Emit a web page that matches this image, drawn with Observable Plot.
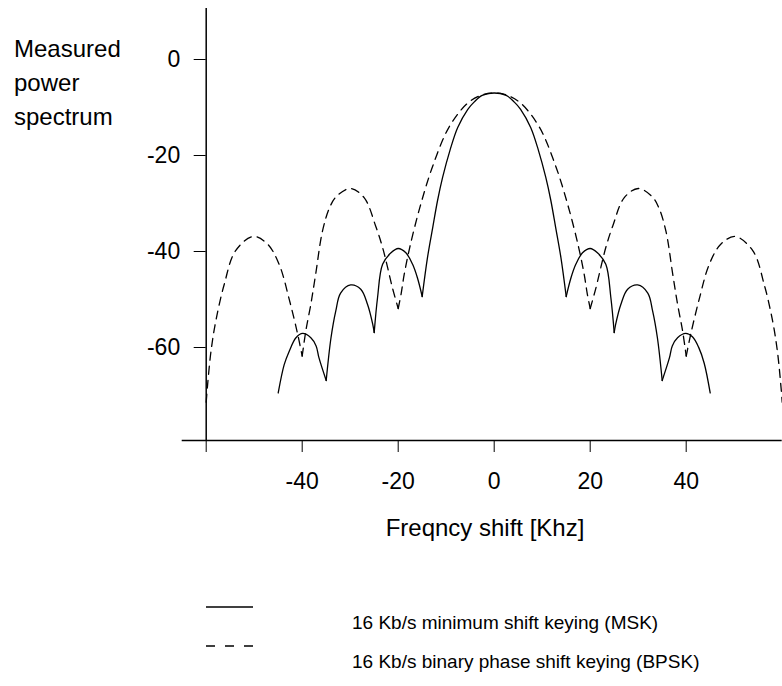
<!DOCTYPE html>
<html>
<head>
<meta charset="utf-8">
<script src="https://cdn.jsdelivr.net/npm/d3@7"></script>
<script src="https://cdn.jsdelivr.net/npm/@observablehq/plot@0.6"></script>
<style>
  body { margin: 0; background: #fff; }
  #wrap { position: relative; width: 782px; height: 686px; font-family: "Liberation Sans", Arial, Helvetica, sans-serif; color: #000; }
  .lg-text { position: absolute; font-size: 19px; line-height: 19px; white-space: nowrap; }
  .lg-key { position: absolute; }
</style>
</head>
<body>
<div id="wrap"></div>
<script>
// ---- Data ----
// MSK (solid) : frequency shift [kHz], power [dB], lobe id
const mskFreq = [
  -45, -43.75, -42.7, -41.3, -39.9, -38.2, -37.1, -36.5, -35,
  -35, -34, -33, -32, -29.9, -27.8, -26.4, -25.3, -25,
  -25, -24.3, -23.25, -21.5, -20, -18.4, -17, -16, -15,
  -15, -13.9, -12.8, -11.8, -10.75, -9.2, -7.6, -5.5, -4.2, -2.5, 0, 2.5, 4.2, 5.5, 7.6, 9.2, 10.75, 11.8, 12.8, 13.9, 15,
  15, 16, 17, 18.4, 20, 21.5, 23.25, 24.3, 25,
  25, 25.3, 26.4, 27.8, 29.9, 32, 33, 34, 35,
  35, 36.5, 37.1, 38.2, 39.9, 41.3, 42.6, 43.75, 45
];
const mskPower = [
  -70.1, -64.2, -61.4, -58.6, -57.7, -58.6, -60.3, -62.8, -67.5,
  -67.5, -58.6, -53, -49.3, -47.6, -48.5, -51.6, -55.8, -57.5,
  -57.5, -50.2, -43.3, -40.9, -40, -40.9, -43.3, -46.1, -50,
  -50, -41.9, -35.6, -30, -25.2, -19.5, -14.8, -11, -9.5, -8.1, -7.6, -8.1, -9.5, -11, -14.8, -19.5, -25.2, -30, -35.6, -41.9, -50,
  -50, -46.1, -43.3, -40.9, -40, -40.9, -43.3, -50.2, -57.5,
  -57.5, -55.8, -51.6, -48.5, -47.6, -49.3, -53, -58.6, -67.5,
  -67.5, -62.8, -60.3, -58.6, -57.7, -58.4, -60.6, -63.9, -70.1
];
const mskLobe = [
  1,1,1,1,1,1,1,1,1,
  2,2,2,2,2,2,2,2,2,
  3,3,3,3,3,3,3,3,3,
  4,4,4,4,4,4,4,4,4,4,4,4,4,4,4,4,4,4,4,4,4,
  5,5,5,5,5,5,5,5,5,
  6,6,6,6,6,6,6,6,6,
  7,7,7,7,7,7,7,7,7
];

// BPSK (dashed) : frequency shift [kHz], power [dB], lobe id
const bpskFreq = [
  -60, -59.7, -59, -58, -56.25, -53.9, -50.2, -47.2, -44.8, -42.7, -41, -40,
  -40, -39.25, -38.2, -37.2, -35.8, -34.3, -32.9, -30, -27.1, -24.7, -23.25, -22.2, -21.2, -20,
  -20, -19.4, -18.75, -17.6, -15.5, -12.8, -9.4, -5.5, -2.5, 0, 2.5, 5.5, 9.4, 12.8, 15.5, 17.6, 18.75, 19.4, 20,
  20, 21.2, 22.2, 23.25, 24.7, 27.1, 30, 32.9, 34.3, 35.8, 37.2, 38.2, 39.25, 40,
  40, 41, 42.7, 44.8, 47.2, 50.2, 53.9, 56.25, 58, 59, 59.7, 60
];
const bpskPower = [
  -72, -68.3, -61.4, -55.1, -47.5, -40.5, -37.5, -39.1, -43.3, -50.6, -57.6, -62.4,
  -62.4, -57.2, -51.6, -45.4, -36.5, -31.5, -29.2, -27.5, -29.4, -35.3, -39.8, -44, -48.2, -52.5,
  -52.5, -49.5, -45.4, -39.8, -31.5, -22.8, -14.7, -9.7, -8, -7.6, -8, -9.7, -14.7, -22.8, -31.5, -39.8, -45.4, -49.5, -52.5,
  -52.5, -48.2, -44, -39.8, -35.3, -29.4, -27.5, -29.2, -31.5, -36.5, -45.4, -51.6, -57.2, -62.4,
  -62.4, -57.6, -50.6, -43.3, -39.1, -37.5, -40.5, -47.5, -55.1, -61.4, -68.3, -72
];
const bpskLobe = [
  1,1,1,1,1,1,1,1,1,1,1,1,
  2,2,2,2,2,2,2,2,2,2,2,2,2,2,
  3,3,3,3,3,3,3,3,3,3,3,3,3,3,3,3,3,3,3,
  4,4,4,4,4,4,4,4,4,4,4,4,4,4,
  5,5,5,5,5,5,5,5,5,5,5,5
];

const xTicks = [-60, -40, -20, 0, 20, 40];
const xTickLabels = ["", "-40", "-20", "0", "20", "40"];
const yTicks = [0, -20, -40, -60];
const yTickLabels = ["0", "-20", "-40", "-60"];
const xLabel = "Freqncy shift [Khz]";
const yLabel = "Measured\npower\nspectrum";
const seriesNames = ["16 Kb/s minimum shift keying (MSK)", "16 Kb/s binary phase shift keying (BPSK)"];

// ---- Build tables ----
const msk = mskFreq.map((f, i) => ({f, p: mskPower[i], lobe: mskLobe[i]}));
const bpsk = bpskFreq.map((f, i) => ({f, p: bpskPower[i], lobe: bpskLobe[i]}));
const xLab = new Map(xTicks.map((t, i) => [t, xTickLabels[i]]));
const yLab = new Map(yTicks.map((t, i) => [t, yTickLabels[i]]));

const chart = Plot.plot({
  width: 782,
  height: 580,
  marginLeft: 205.7,
  marginRight: 0.3,
  marginTop: 8,
  marginBottom: 140,
  style: {fontFamily: '"Liberation Sans", Arial, Helvetica, sans-serif', background: "#fff", color: "#000", overflow: "visible"},
  x: {domain: [-60, 60]},
  y: {domain: [-80, 10]},
  marks: [
    Plot.axisX({ticks: xTicks, tickFormat: d => xLab.get(d), tickSize: 12, tickPadding: 20, fontSize: 23, label: null}),
    Plot.axisY({ticks: yTicks, tickFormat: d => yLab.get(d), tickSize: 12, tickPadding: 14, fontSize: 23, dy: 3, label: null}),
    Plot.ruleY([-80], {x1: -65, x2: 60, stroke: "#000", strokeWidth: 1.5}),
    Plot.ruleX([-60], {y1: -80, y2: 10, stroke: "#000", strokeWidth: 1.5}),
    Plot.line(bpsk, {x: "f", y: "p", z: "lobe", curve: "catmull-rom", stroke: "#000", strokeWidth: 1.3, strokeDasharray: "8,6"}),
    Plot.line(msk, {x: "f", y: "p", z: "lobe", curve: "catmull-rom", stroke: "#000", strokeWidth: 1.3}),
    Plot.text([yLabel], {text: d => d, frameAnchor: "top-left", textAnchor: "start", lineAnchor: "top", lineHeight: 1.4, dx: -192.2, dy: 25, fontSize: 24}),
    Plot.text([xLabel], {text: d => d, frameAnchor: "bottom", lineAnchor: "middle", dx: -9.2, dy: 88, fontSize: 24})
  ]
});

const wrap = document.getElementById("wrap");
wrap.appendChild(chart);

// ---- Legend below the plot ----
const keys = [
  {top: 607, dash: null, textTop: 613},
  {top: 646, dash: "9,10", textTop: 652}
];
seriesNames.forEach((name, i) => {
  const k = keys[i];
  const ns = "http://www.w3.org/2000/svg";
  const s = document.createElementNS(ns, "svg");
  s.setAttribute("class", "lg-key");
  s.setAttribute("width", "50");
  s.setAttribute("height", "10");
  s.style.left = "206px";
  s.style.top = (k.top - 5) + "px";
  const ln = document.createElementNS(ns, "line");
  ln.setAttribute("x1", 0); ln.setAttribute("x2", 47);
  ln.setAttribute("y1", 5); ln.setAttribute("y2", 5);
  ln.setAttribute("stroke", "#000");
  ln.setAttribute("stroke-width", 1.3);
  if (k.dash) ln.setAttribute("stroke-dasharray", k.dash);
  s.appendChild(ln);
  wrap.appendChild(s);
  const t = document.createElement("div");
  t.className = "lg-text";
  t.style.left = "352px";
  t.style.top = k.textTop + "px";
  t.textContent = name;
  wrap.appendChild(t);
});
</script>
</body>
</html>
